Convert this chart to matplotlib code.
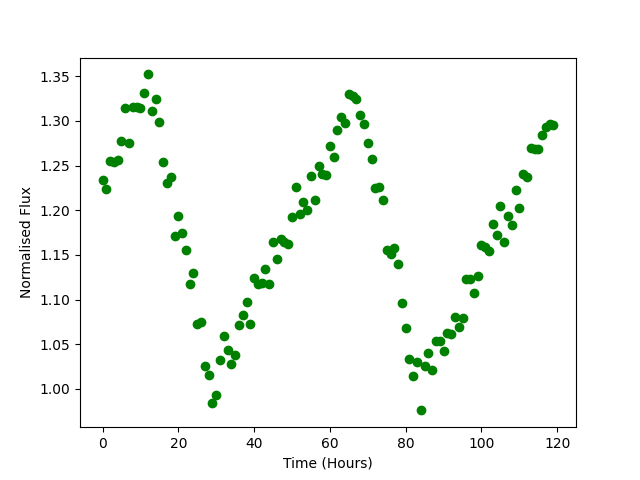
import numpy as np
import matplotlib
matplotlib.use("Agg")
import matplotlib.pyplot as plt

# hourly flux readings
time_hours = np.arange(120)
flux = [
    1.234, 1.224, 1.255, 1.254, 1.256, 1.277, 1.314, 1.275, 1.315, 1.316,
    1.314, 1.331, 1.352, 1.311, 1.324, 1.299, 1.254, 1.230, 1.237, 1.171,
    1.194, 1.174, 1.156, 1.117, 1.130, 1.073, 1.075, 1.026, 1.016, 0.984,
    0.993, 1.032, 1.059, 1.044, 1.028, 1.038, 1.072, 1.083, 1.097, 1.073,
    1.124, 1.118, 1.119, 1.134, 1.118, 1.164, 1.145, 1.168, 1.164, 1.162,
    1.192, 1.226, 1.196, 1.209, 1.200, 1.238, 1.211, 1.250, 1.240, 1.239,
    1.272, 1.260, 1.290, 1.304, 1.298, 1.330, 1.328, 1.325, 1.307, 1.297,
    1.275, 1.257, 1.225, 1.226, 1.211, 1.156, 1.151, 1.158, 1.140, 1.096,
    1.068, 1.033, 1.014, 1.030, 0.976, 1.026, 1.040, 1.021, 1.054, 1.054,
    1.043, 1.063, 1.061, 1.081, 1.069, 1.079, 1.123, 1.123, 1.107, 1.126,
    1.161, 1.159, 1.154, 1.185, 1.172, 1.205, 1.164, 1.193, 1.183, 1.223,
    1.202, 1.241, 1.237, 1.270, 1.268, 1.269, 1.284, 1.293, 1.297, 1.295,
]

fig = plt.figure(figsize=(6.4, 4.8), dpi=100)
plt.scatter(time_hours, flux, color='green')
plt.xlabel('Time (Hours)')
plt.ylabel('Normalised Flux')
plt.savefig('out.png')
